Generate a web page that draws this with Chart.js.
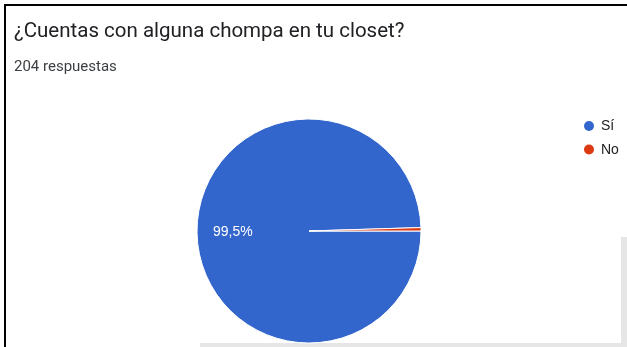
<!DOCTYPE html>
<html lang="es">
<head>
<meta charset="utf-8">
<title>¿Cuentas con alguna chompa en tu closet?</title>
<script src="https://cdn.jsdelivr.net/npm/chart.js@4.4.1/dist/chart.umd.min.js"></script>
<style>
  html, body { margin: 0; padding: 0; background: #ffffff; }
  body { width: 627px; height: 347px; position: relative; overflow: hidden; }
  #frame {
    position: absolute; left: 4px; top: 4px; right: 0; bottom: 0;
    border-top: 2px solid #000; border-left: 2px solid #000;
  }
  #edgeRight { position: absolute; left: 621px; top: 237px; width: 6px; height: 110px; background: #e6e6e6; }
  #edgeBottom { position: absolute; left: 200px; top: 343px; width: 427px; height: 4px; background: #e6e6e6; }
  #title {
    position: absolute; left: 14px; top: 18px;
    font-family: Roboto, "Noto Sans", Arial, sans-serif; font-size: 20.5px; line-height: 24px;
    color: #202124; white-space: nowrap;
  }
  #subtitle {
    position: absolute; left: 14px; top: 58px;
    font-family: Roboto, "Noto Sans", Arial, sans-serif; font-size: 15px; line-height: 16px;
    color: #3c4043; white-space: nowrap;
  }
  #chartBox { position: absolute; left: 0; top: 0; width: 627px; height: 347px; }
</style>
</head>
<body>
<div id="frame"></div>
<div id="edgeRight"></div>
<div id="edgeBottom"></div>
<div id="chartBox"><canvas id="pie" width="627" height="347"></canvas></div>
<div id="title">¿Cuentas con alguna chompa en tu closet?</div>
<div id="subtitle">204 respuestas</div>
<script>
// Answers to the question and how many people gave each one
const categories = ['Sí', 'No'];
const responses = [203, 1];

const palette = ['#3366cc', '#dc3912'];

function formatPercent(value, total) {
  return (value / total * 100).toFixed(1).replace('.', ',') + '%';
}

// White percentage text inside slices large enough to hold it
const sliceLabels = {
  id: 'sliceLabels',
  afterDatasetsDraw(chart) {
    const ctx = chart.ctx;
    const meta = chart.getDatasetMeta(0);
    const data = chart.data.datasets[0].data;
    const total = data.reduce((a, b) => a + b, 0);
    ctx.save();
    ctx.font = '14px Arial, "Liberation Sans", sans-serif';
    ctx.fillStyle = '#ffffff';
    ctx.textAlign = 'center';
    ctx.textBaseline = 'middle';
    meta.data.forEach((arc, i) => {
      if (data[i] / total < 0.05) return;
      const p = arc.getProps(['x', 'y', 'startAngle', 'endAngle', 'outerRadius'], true);
      const mid = (p.startAngle + p.endAngle) / 2;
      const r = p.outerRadius * 0.68;
      ctx.fillText(formatPercent(data[i], total), p.x + Math.cos(mid) * r, p.y + Math.sin(mid) * r);
    });
    ctx.restore();
  }
};

// Legend on the right: coloured dot followed by the answer
const sideLegend = {
  id: 'sideLegend',
  afterDraw(chart) {
    const ctx = chart.ctx;
    const labels = chart.data.labels;
    const colors = chart.data.datasets[0].backgroundColor;
    ctx.save();
    ctx.font = '14px Arial, "Liberation Sans", sans-serif';
    ctx.textAlign = 'left';
    ctx.textBaseline = 'middle';
    labels.forEach((label, i) => {
      const y = 126 + i * 23.5;
      ctx.beginPath();
      ctx.arc(589, y, 5, 0, Math.PI * 2);
      ctx.fillStyle = colors[i];
      ctx.fill();
      ctx.fillStyle = '#222222';
      ctx.fillText(label, 601, y + 0.5);
    });
    ctx.restore();
  }
};

new Chart(document.getElementById('pie'), {
  type: 'pie',
  data: {
    labels: categories,
    datasets: [{
      data: responses,
      backgroundColor: palette,
      borderColor: '#ffffff',
      borderWidth: 1
    }]
  },
  options: {
    responsive: false,
    animation: false,
    rotation: 90,
    radius: 112,
    layout: { padding: { left: 0, right: 9, top: 115, bottom: 0 } },
    plugins: {
      legend: { display: false },
      tooltip: { enabled: false }
    }
  },
  plugins: [sliceLabels, sideLegend]
});
</script>
</body>
</html>
